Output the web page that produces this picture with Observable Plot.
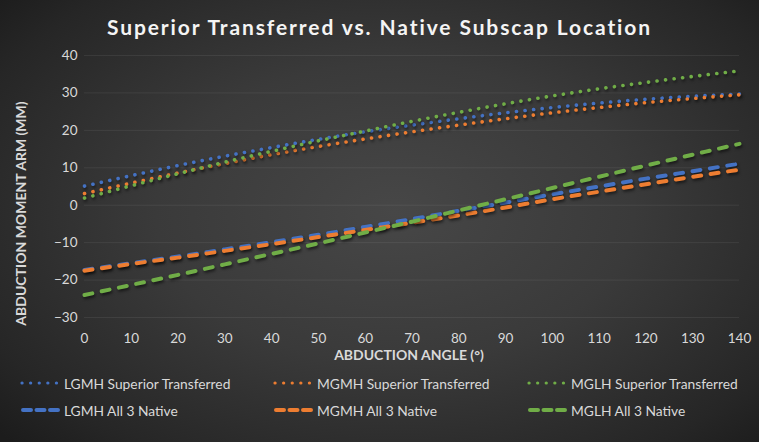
<!DOCTYPE html>
<html>
<head>
<meta charset="utf-8">
<script src="https://cdn.jsdelivr.net/npm/d3@7"></script>
<script src="https://cdn.jsdelivr.net/npm/@observablehq/plot@0.6"></script>
<style>
  html, body { margin: 0; padding: 0; }
  body {
    width: 759px; height: 442px; overflow: hidden; position: relative;
    background: radial-gradient(ellipse 70% 75% at 52% 48%, #474747 0%, #3a3a3a 45%, #262626 85%, #1c1c1c 100%);
    font-family: Lato, "Open Sans", sans-serif;
  }
  #title {
    height: 45px; line-height: 54px; text-align: center; color: #f4f4f4;
    font-weight: bold; font-size: 21px; letter-spacing: 1.9px;
  }
  #chart svg { display: block; }
  #chart svg g[aria-label="line"] path { filter: drop-shadow(1px 2px 1.5px rgba(0,0,0,0.55)); }
  #legend { position: absolute; left: 0; top: 370px; width: 759px; height: 72px; }
  .item { position: absolute; display: flex; align-items: center; color: #d9d9d9; font-size: 13.8px; height: 20px; }
  .item svg { margin-right: 4px; }
</style>
</head>
<body>
<div id="title">Superior Transferred vs. Native Subscap Location</div>
<div id="chart"></div>
<div id="legend"></div>
<script>
const angles = [0, 10, 20, 30, 40, 50, 60, 70, 80, 90, 100, 110, 120, 130, 140];
const lgmhSuperior = [5.1, 7.9, 10.6, 13.1, 15.4, 17.6, 19.6, 21.4, 23.1, 24.7, 26.1, 27.3, 28.3, 29.1, 29.7];
const mgmhSuperior = [3.1, 5.9, 8.6, 11.1, 13.5, 15.7, 17.7, 19.6, 21.4, 23.1, 24.7, 26.1, 27.4, 28.5, 29.5];
const mglhSuperior = [1.9, 5.2, 8.4, 11.5, 14.4, 17.2, 19.8, 22.4, 24.8, 27.1, 29.2, 31.1, 32.8, 34.4, 35.9];
const lgmhNative = [-17.3, -15.5, -13.7, -11.8, -9.9, -7.9, -5.8, -3.7, -1.5, 0.7, 2.9, 5.0, 7.1, 9.1, 11.1];
const mgmhNative = [-17.5, -15.7, -14.0, -12.2, -10.4, -8.5, -6.6, -4.7, -2.7, -0.6, 1.6, 3.6, 5.6, 7.6, 9.5];
const mglhNative = [-24.0, -21.3, -18.6, -15.8, -13.0, -10.2, -7.3, -4.4, -1.4, 1.6, 4.6, 7.6, 10.6, 13.5, 16.4];
const xTicks = [0, 10, 20, 30, 40, 50, 60, 70, 80, 90, 100, 110, 120, 130, 140];
const yTicks = [-30, -20, -10, 0, 10, 20, 30, 40];
const seriesNames = ["LGMH Superior Transferred", "MGMH Superior Transferred", "MGLH Superior Transferred",
                     "LGMH All 3 Native", "MGMH All 3 Native", "MGLH All 3 Native"];
const seriesValues = [lgmhSuperior, mgmhSuperior, mglhSuperior, lgmhNative, mgmhNative, mglhNative];
const seriesColors = ["#4472C4", "#ED7D31", "#70AD47", "#4472C4", "#ED7D31", "#70AD47"];
const seriesDotted = [true, true, true, false, false, false];
const xLabel = "ABDUCTION ANGLE (°)";
const yLabel = "ABDUCTION MOMENT ARM (MM)";

const lineMarks = seriesNames.map((name, i) => {
  const rows = angles.map((a, j) => ({angle: a, value: seriesValues[i][j]}));
  return Plot.line(rows, {
    x: "angle", y: "value", stroke: seriesColors[i],
    strokeWidth: seriesDotted[i] ? 3.6 : 4,
    strokeLinecap: "round",
    strokeDasharray: seriesDotted[i] ? "0.1 8.5" : "8 9.6",
    curve: "monotone-x"
  });
});
const ordered = [lineMarks[3], lineMarks[4], lineMarks[5], lineMarks[0], lineMarks[1], lineMarks[2]];

const chart = Plot.plot({
  width: 759, height: 325,
  marginTop: 10, marginBottom: 53, marginLeft: 84, marginRight: 20,
  style: {background: "transparent", color: "#d9d9d9", fontFamily: "Lato, sans-serif", fontSize: "13.5px"},
  x: {domain: [0, 140]},
  y: {domain: [-30, 40]},
  marks: [
    Plot.gridY(yTicks, {stroke: "#ffffff", strokeOpacity: 0.07, strokeWidth: 1}),
    Plot.axisX(xTicks, {tickSize: 0, tickPadding: 16, label: null, fill: "#d9d9d9"}),
    Plot.axisY(yTicks, {tickSize: 0, tickPadding: 7, label: null, fill: "#d9d9d9"}),
    ...ordered,
    Plot.text([xLabel], {frameAnchor: "bottom", textAnchor: "middle", lineAnchor: "middle", dy: 38, dx: -3, fontWeight: "bold", fontSize: 14, fill: "#d9d9d9"}),
    Plot.text([yLabel], {frameAnchor: "left", textAnchor: "middle", lineAnchor: "middle", dx: -63, dy: 27, rotate: -90, fontWeight: "bold", fontSize: 14, fill: "#d9d9d9"})
  ]
});
document.getElementById("chart").appendChild(chart);

// legend
const legend = document.getElementById("legend");
const colX = [20, 273, 527];
const rowY = [3, 30];
seriesNames.forEach((name, i) => {
  const col = i % 3, row = Math.floor(i / 3);
  const div = document.createElement("div");
  div.className = "item";
  div.style.left = colX[col] + "px";
  div.style.top = rowY[row] + "px";
  const svg = d3.create("svg").attr("width", 40).attr("height", 10);
  if (seriesDotted[i]) {
    svg.append("line").attr("x1", 2).attr("x2", 37).attr("y1", 5).attr("y2", 5)
      .attr("stroke", seriesColors[i]).attr("stroke-width", 3.2).attr("stroke-linecap", "round")
      .attr("stroke-dasharray", "0.1 8.5");
  } else {
    svg.append("line").attr("x1", 3).attr("x2", 40).attr("y1", 5).attr("y2", 5)
      .attr("stroke", seriesColors[i]).attr("stroke-width", 4).attr("stroke-linecap", "round")
      .attr("stroke-dasharray", "8 5.5");
  }
  div.appendChild(svg.node());
  const span = document.createElement("span");
  span.textContent = name;
  div.appendChild(span);
  legend.appendChild(div);
});
</script>
</body>
</html>
